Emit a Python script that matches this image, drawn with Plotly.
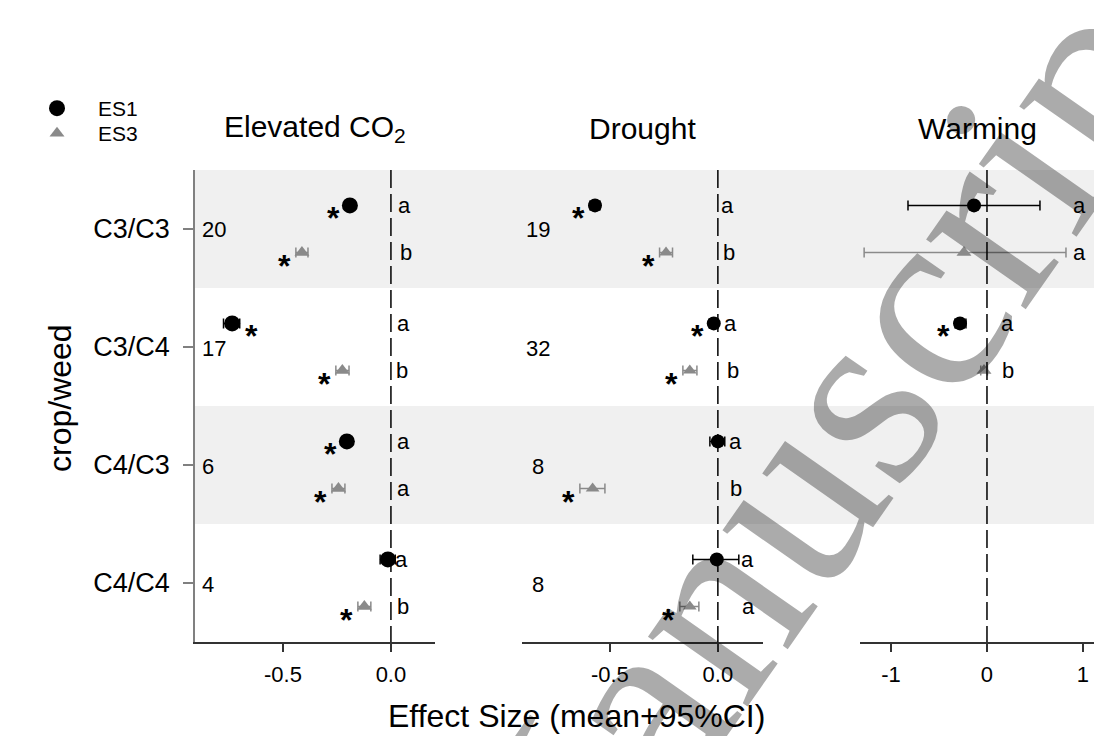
import plotly.graph_objects as go

W, H = 1094, 736
FONT = "Liberation Sans, Arial, sans-serif"

# ---------------- data ----------------
categories = ["C3/C3", "C3/C4", "C4/C3", "C4/C4"]
panel_titles = ["Elevated CO<sub>2</sub>", "Drought", "Warming"]
series_names = ["ES1", "ES3"]

# Elevated CO2
co2_es1_mean = [-0.19, -0.735, -0.204, -0.014]
co2_es1_lo = [-0.212, -0.775, -0.225, -0.05]
co2_es1_hi = [-0.168, -0.70, -0.183, 0.02]
co2_es3_mean = [-0.412, -0.225, -0.243, -0.123]
co2_es3_lo = [-0.44, -0.255, -0.273, -0.153]
co2_es3_hi = [-0.384, -0.194, -0.213, -0.093]
co2_n = [20, 17, 6, 4]
co2_es1_letter = ["a", "a", "a", "a"]
co2_es3_letter = ["b", "b", "a", "b"]
co2_es1_star = ["L", "R", "L", ""]
co2_es3_star = ["L", "L", "L", "L"]
co2_es1_letter_x = [0.065, 0.056, 0.056, 0.051]
co2_es3_letter_x = [0.069, 0.051, 0.060, 0.056]

# Drought
dr_es1_mean = [-0.569, -0.019, 0.0, -0.005]
dr_es1_lo = [-0.592, -0.04, -0.037, -0.116]
dr_es1_hi = [-0.546, 0.0, 0.032, 0.097]
dr_es3_mean = [-0.24, -0.13, -0.58, -0.13]
dr_es3_lo = [-0.27, -0.162, -0.639, -0.176]
dr_es3_hi = [-0.21, -0.097, -0.523, -0.088]
dr_n = [19, 32, 8, 8]
dr_es1_letter = ["a", "a", "a", "a"]
dr_es3_letter = ["b", "b", "b", "a"]
dr_es1_star = ["L", "L", "", ""]
dr_es3_star = ["L", "L", "L", "L"]
dr_es1_letter_x = [0.046, 0.060, 0.080, 0.139]
dr_es3_letter_x = [0.050, 0.070, 0.083, 0.143]

# Warming
wa_es1_mean = [-0.135, -0.281, None, None]
wa_es1_lo = [-0.823, -0.333, None, None]
wa_es1_hi = [0.552, -0.219, None, None]
wa_es3_mean = [-0.24, -0.031, None, None]
wa_es3_lo = [-1.28, -0.065, None, None]
wa_es3_hi = [0.823, 0.005, None, None]
wa_n = [3, 26, None, None]
wa_es1_letter = ["a", "a", "", ""]
wa_es3_letter = ["a", "b", "", ""]
wa_es1_star = ["", "L", "", ""]
wa_es3_star = ["", "", "", ""]
wa_es1_letter_x = [0.96, 0.21, None, None]
wa_es3_letter_x = [0.96, 0.22, None, None]

x_tickvals = [[-0.5, 0.0], [-0.5, 0.0], [-1, 0, 1]]
x_ticktext = [["-0.5", "0.0"], ["-0.5", "0.0"], ["-1", "0", "1"]]
x_ranges = [[-0.907, 0.204], [-0.907, 0.209], [-1.323, 1.115]]
x_domains = [[195 / W, 435 / W], [522 / W, 763 / W], [860 / W, 1.0]]
y_domain = [1 - 642 / H, 1 - 170 / H]
n_label_x = [-0.885, -0.833, -1.325]
n_label_anchor = ["left", "center", "right"]

panels = [
    dict(es1=(co2_es1_mean, co2_es1_lo, co2_es1_hi), es3=(co2_es3_mean, co2_es3_lo, co2_es3_hi),
         n=co2_n, let1=co2_es1_letter, let3=co2_es3_letter, st1=co2_es1_star, st3=co2_es3_star,
         lx1=co2_es1_letter_x, lx3=co2_es3_letter_x),
    dict(es1=(dr_es1_mean, dr_es1_lo, dr_es1_hi), es3=(dr_es3_mean, dr_es3_lo, dr_es3_hi),
         n=dr_n, let1=dr_es1_letter, let3=dr_es3_letter, st1=dr_es1_star, st3=dr_es3_star,
         lx1=dr_es1_letter_x, lx3=dr_es3_letter_x),
    dict(es1=(wa_es1_mean, wa_es1_lo, wa_es1_hi), es3=(wa_es3_mean, wa_es3_lo, wa_es3_hi),
         n=wa_n, let1=wa_es1_letter, let3=wa_es3_letter, st1=wa_es1_star, st3=wa_es3_star,
         lx1=wa_es1_letter_x, lx3=wa_es3_letter_x),
]

OFF = 0.2
es1_sizes = [16, 14, 14]
es3_sizes = [13, 12, 13]
ES1_COLOR = "#000000"
ES3_COLOR = "#8a8a8a"

fig = go.Figure()
annotations = []

for p, pan in enumerate(panels):
    xa = "x" if p == 0 else f"x{p + 1}"
    for s, key in enumerate(["es1", "es3"]):
        mean, lo, hi = pan[key]
        xs, ys, ep, em = [], [], [], []
        for i, m in enumerate(mean):
            if m is None:
                continue
            xs.append(m)
            ys.append(i + 1 + (-OFF if s == 0 else OFF))
            ep.append(hi[i] - m)
            em.append(m - lo[i])
        color = ES1_COLOR if s == 0 else ES3_COLOR
        fig.add_trace(go.Scatter(
            x=xs, y=ys, mode="markers", xaxis=xa, yaxis="y",
            name=series_names[s], showlegend=(p == 0),
            legend="legend" if s == 0 else "legend2",
            marker=dict(symbol="circle" if s == 0 else "triangle-up",
                        size=es1_sizes[p] if s == 0 else es3_sizes[p], color=color,
                        line=dict(width=0)),
            error_x=dict(type="data", symmetric=False, array=ep, arrayminus=em,
                         color=color, thickness=1.5, width=5),
            cliponaxis=False,
        ))

    # zero line
    fig.add_trace(go.Scatter(
        x=[0, 0], y=[0.5, 4.5], mode="lines", xaxis=xa, yaxis="y", showlegend=False,
        line=dict(color="black", width=1.5, dash="18px,6px"), hoverinfo="skip"))

    # n labels
    for i, n in enumerate(pan["n"]):
        if n is None:
            continue
        annotations.append(dict(x=n_label_x[p], y=i + 1, xref=xa, yref="y", text=str(n),
                                showarrow=False, xanchor=n_label_anchor[p], yanchor="middle",
                                yshift=-1, font=dict(size=22, color="black", family=FONT)))
    # letters and stars
    for s, key in enumerate(["es1", "es3"]):
        mean, lo, hi = pan[key]
        letters = pan["let1"] if s == 0 else pan["let3"]
        lxs = pan["lx1"] if s == 0 else pan["lx3"]
        stars = pan["st1"] if s == 0 else pan["st3"]
        for i, m in enumerate(mean):
            if m is None:
                continue
            yy = i + 1 + (-OFF if s == 0 else OFF)
            if letters[i]:
                annotations.append(dict(x=lxs[i], y=yy, xref=xa, yref="y", text=letters[i],
                                        showarrow=False, xanchor="center", yanchor="middle",
                                        font=dict(size=22, color="black", family=FONT)))
            if stars[i] == "L":
                annotations.append(dict(x=lo[i], y=yy, xref=xa, yref="y", text="<b>*</b>",
                                        showarrow=False, xanchor="right", yanchor="middle",
                                        xshift=-3, yshift=-13,
                                        font=dict(size=32, color="black", family=FONT)))
            elif stars[i] == "R":
                annotations.append(dict(x=hi[i], y=yy, xref=xa, yref="y", text="<b>*</b>",
                                        showarrow=False, xanchor="left", yanchor="middle",
                                        xshift=3, yshift=-13,
                                        font=dict(size=32, color="black", family=FONT)))
    # panel title
    annotations.append(dict(x=(x_domains[p][0] + x_domains[p][1]) / 2, y=1 - 128 / H,
                            xref="paper", yref="paper", text=panel_titles[p], showarrow=False,
                            xanchor="center", yanchor="middle",
                            font=dict(size=30, color="black", family=FONT)))

# shaded bands (every other category row)
shapes = []
for i in range(0, len(categories), 2):
    shapes.append(dict(type="rect", xref="paper", yref="y", x0=x_domains[0][0], x1=1.0,
                       y0=i + 0.5, y1=i + 1.5, fillcolor="#f0f0f0", line=dict(width=0),
                       layer="below"))

# axis titles
annotations.append(dict(x=576 / W, y=1 - 716 / H, xref="paper", yref="paper",
                        text="Effect Size (mean+95%CI)", showarrow=False,
                        xanchor="center", yanchor="middle",
                        font=dict(size=32, color="black", family=FONT)))
annotations.append(dict(x=60 / W, y=1 - 398 / H, xref="paper", yref="paper",
                        text="crop/weed", showarrow=False, textangle=-90,
                        xanchor="center", yanchor="middle",
                        font=dict(size=32, color="black", family=FONT)))

# watermark (translucent dark overlay, acts like a multiply of light grey)
annotations.append(dict(x=815 / W, y=1 - 455 / H, xref="paper", yref="paper",
                        text="Manuscript", showarrow=False, textangle=-55,
                        xanchor="center", yanchor="middle",
                        font=dict(size=265, color="rgba(0,0,0,0.33)",
                                  family="Liberation Serif, Times New Roman, serif")))

legend_common = dict(xanchor="left", yanchor="top", bgcolor="rgba(0,0,0,0)",
                     font=dict(size=21, family=FONT, color="black"), itemwidth=72)

layout = dict(
    width=W, height=H,
    margin=dict(l=0, r=0, t=0, b=0),
    paper_bgcolor="white", plot_bgcolor="rgba(0,0,0,0)",
    font=dict(family=FONT, color="black"),
    showlegend=True,
    legend=dict(x=16 / W, y=1 - 88 / H, **legend_common),
    legend2=dict(x=16 / W, y=1 - 113 / H, **legend_common),
    yaxis=dict(domain=y_domain, range=[4.5, 0.5], tickvals=[1, 2, 3, 4], ticktext=categories,
               showline=True, linecolor="#808080", linewidth=1.5, ticks="outside",
               ticklen=10, tickcolor="#808080", tickwidth=1.5, showgrid=False, zeroline=False,
               tickfont=dict(size=27, family=FONT, color="black"), ticklabelstandoff=8,
               anchor="x"),
    shapes=shapes,
    annotations=annotations,
)
for p in range(3):
    key = "xaxis" if p == 0 else f"xaxis{p + 1}"
    layout[key] = dict(domain=x_domains[p], range=x_ranges[p], tickvals=x_tickvals[p],
                       ticktext=x_ticktext[p], showline=True, linecolor="#333333",
                       linewidth=1.5, ticks="outside", ticklen=8, tickcolor="#333333",
                       tickwidth=1.5, showgrid=False, zeroline=False, anchor="y",
                       tickfont=dict(size=22, family=FONT, color="black"),
                       ticklabelstandoff=4)

fig.update_layout(**layout)

fig.write_html("out.html", post_script="document.body.style.margin='0px';",
               config={"displayModeBar": False})
